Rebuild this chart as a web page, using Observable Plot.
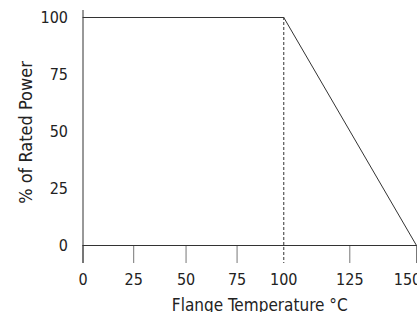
<!DOCTYPE html>
<html>
<head>
<meta charset="utf-8">
<script src="https://cdn.jsdelivr.net/npm/d3@7"></script>
<script src="https://cdn.jsdelivr.net/npm/@observablehq/plot@0.6"></script>
<style>
  html, body { margin: 0; padding: 0; background: #fff; }
  svg text { font-stretch: condensed; }
</style>
</head>
<body>
<div id="chart"></div>
<script>
// Derating curve data
const temps = [0, 100, 150];
const power = [100, 100, 0];
const breakTemp = [100];
const xTickLabels = [0, 25, 50, 75, 100, 125, 150];
const xTickMarks = [0, 25, 50, 75, 125, 150];
const yTickLabels = [0, 25, 50, 75, 100];
const xLabel = "Flange Temperature °C";
const yLabel = "% of Rated Power";

// The source chart's temperature axis is not evenly spaced:
// relative position (0–1) of each labelled temperature along the axis.
const xAxisStops = [0, 0.152, 0.309, 0.462, 0.602, 0.800, 1];
const warp = d3.scaleLinear().domain(xTickLabels).range(xAxisStops);

const data = temps.map((t, i) => ({temp: t, power: power[i]}));
const lastX = xTickLabels[xTickLabels.length - 1];
const innerLabels = xTickLabels.filter(d => d !== lastX);

const chart = Plot.plot({
  width: 417,
  height: 312,
  marginLeft: 82.5,
  marginRight: 1,
  marginTop: 17,
  marginBottom: 67,
  style: {
    fontFamily: "'DejaVu Sans Condensed', 'DejaVu Sans', sans-serif",
    fontSize: "16px",
    color: "#222",
    background: "#fff",
    overflow: "visible"
  },
  x: { domain: [warp(0), warp(150)], transform: warp, axis: null },
  y: { domain: [0, 100], axis: null },
  marks: [
    Plot.axisX(xTickMarks, { tickSize: 18, tickFormat: () => "", stroke: "#777", label: null }),
    Plot.axisX(innerLabels, { tickSize: 0, tickPadding: 28, tickFormat: d => String(d), label: null, fill: "#222" }),
    Plot.axisX([lastX], { tickSize: 0, tickPadding: 28, dx: -9, tickFormat: d => String(d), label: null, fill: "#222" }),
    Plot.axisY(yTickLabels, { tickSize: 0, tickPadding: 15, tickFormat: d => String(d), label: null, fill: "#222" }),
    Plot.ruleY([0], { stroke: "#333" }),
    Plot.ruleX([0], { stroke: "#333", insetTop: -7, insetBottom: -18 }),
    Plot.ruleX(breakTemp, { stroke: "#333", strokeDasharray: "3,2", insetBottom: -18 }),
    Plot.line(data, { x: "temp", y: "power", stroke: "#333", strokeWidth: 1 }),
    Plot.text([xLabel], { frameAnchor: "bottom", dx: 10, dy: 60, fill: "#222", lineAnchor: "middle", fontSize: 17 }),
    Plot.text([yLabel], { frameAnchor: "left", textAnchor: "middle", lineAnchor: "middle", rotate: -90, dx: -57, dy: 1, fill: "#222", fontSize: 18 })
  ]
});
document.getElementById("chart").append(chart);
</script>
</body>
</html>
